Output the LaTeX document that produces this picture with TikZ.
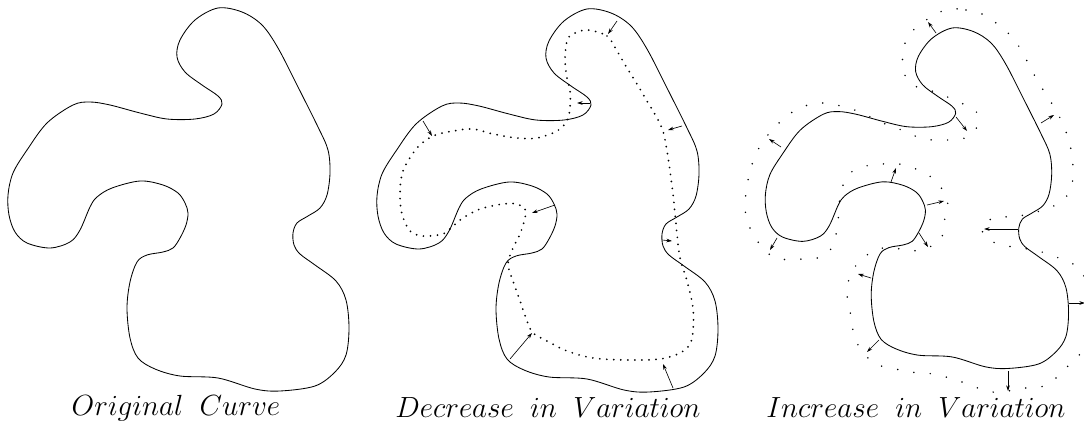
\documentclass[tikz,border=0pt]{standalone}
\usetikzlibrary{arrows.meta}

\tikzset{
  curva/.pic={
    \draw[line width=0.6pt] plot[smooth cycle, tension=0.55] coordinates {
      (218,8) (242,12) (262,25) (278,48) (298,87) (318,127) (328,150) (330,173)
      (327,195) (320,208) (308,216) (297,223) (293,233) (294,245) (300,254)
      (315,265) (336,281) (346,300) (349,328) (346,355) (335,372) (315,386)
      (280,391) (255,389) (218,378) (180,376) (155,369) (138,358) (130,338)
      (127,308) (130,282) (137,262) (147,255) (163,252) (173,248) (180,238)
      (186,225) (188,213) (185,203) (178,193) (163,185) (140,181) (112,188)
      (97,197) (90,207) (80,230) (70,242) (50,248) (27,243) (15,232) (9,215)
      (8,195) (13,173) (27,150) (47,123) (73,105) (90,102) (110,105) (140,113)
      (167,119) (195,119) (214,114) (222,104) (218,96) (202,85) (185,72)
      (177,57) (180,40) (195,20)};
  },
  flujo/.style={-{Stealth[length=4pt,width=2.6pt]}, line width=0.45pt},
  puntosin/.style={line width=1.4pt, line cap=round, dash pattern=on 0pt off 5pt},
  puntosout/.style={line width=1.2pt, line cap=round, dash pattern=on 0pt off 11.7pt},
  titulo/.style={font=\fontsize{19.2}{22}\selectfont}
}

\begin{document}
\begin{tikzpicture}[x=0.025cm, y=-0.025cm]
  \useasboundingbox (0,0) rectangle (1084,427);
  % curva original
  \pic at (0,0) {curva};
  \node[titulo] (orig) at (176,408) {$Original\ \ Curve$};

  % disminucion de la variacion
  \begin{scope}[shift={(369,1)}]
    \pic at (0,0) {curva};
    \draw[puntosin] plot[smooth cycle, tension=0.55] coordinates {
      (218,29) (238,35) (248,50) (258,67) (268,83) (278,100) (288,117) (294,130)
      (298,150) (301,170) (304,193) (306,213) (308,233) (311,257) (318,280)
      (324,307) (324,330) (321,343) (311,352) (291,358) (258,359) (224,357)
      (198,350) (178,340) (164,332) (158,320) (151,300) (144,280) (139,263)
      (144,247) (151,233) (156,217) (156,208) (148,203) (134,203) (111,208)
      (94,217) (84,225) (74,233) (54,235) (41,230) (33,213) (31,193) (34,170)
      (48,147) (64,135) (84,130) (104,128) (124,133) (148,137) (168,137)
      (188,130) (198,120) (201,107) (201,90) (198,77) (196,60) (198,40) (204,33)};
    \draw[flujo] (248,20) -- (239,33);
    \draw[flujo] (221,102) -- (208,102);
    \draw[flujo] (54,120) -- (63,135);
    \draw[flujo] (313,125) -- (299,129);
    \draw[flujo] (186,204) -- (163,212);
    \draw[flujo] (293,239) -- (303,240);
    \draw[flujo] (141,358) -- (163,332);
    \draw[flujo] (304,387) -- (294,363);
  \end{scope}
  \node[titulo] (decr) at (548,408) {$Decrease\ \ in\ \ Variation$};

  % aumento de la variacion
  \begin{scope}[shift={(758.3,20.9)}, scale=0.889]
    \pic[transform shape] at (0,0) {curva};
  \end{scope}
  \draw[puntosout] plot[smooth cycle, tension=0.55] coordinates {
    (948,9) (966,10) (982,14) (996,23) (1009,34) (1020,48) (1028,63) (1036,78)
    (1045,93) (1054,107) (1062,122) (1068,138) (1072,155) (1073,172) (1071,189)
    (1061,202) (1046,209) (1029,214) (1012,217) (996,217) (982,226) (987,239)
    (1003,245) (1019,248) (1036,250) (1052,256) (1068,261) (1081,271) (1089,290)
    (1091,315) (1087,338) (1080,354) (1068,366) (1056,378) (1041,387) (1025,388)
    (1008,391) (991,392) (975,387) (959,381) (942,376) (926,373) (909,372)
    (892,368) (875,364) (863,352) (854,337) (852,320) (848,303) (847,287)
    (853,270) (863,258) (878,249) (894,248) (911,251) (927,248) (941,239)
    (944,222) (948,205) (942,189) (931,177) (916,169) (899,164) (882,164)
    (866,166) (850,173) (842,188) (839,205) (838,222) (835,238) (828,253)
    (813,259) (796,259) (779,259) (765,251) (755,237) (747,221) (745,204)
    (747,187) (750,171) (756,154) (764,140) (775,127) (788,115) (802,107)
    (819,103) (836,105) (852,109) (868,116) (883,123) (899,129) (915,136)
    (932,140) (948,140) (965,138) (977,127) (976,111) (961,103) (945,96)
    (929,90) (913,85) (903,71) (903,54) (907,38) (919,25) (933,16)};
  \draw[flujo] (936,33) -- (928,22);
  \draw[flujo] (1041,123) -- (1054,115);
  \draw[flujo] (956,117) -- (967,131);
  \draw[flujo] (781,147) -- (769,139);
  \draw[flujo] (891,182) -- (896,168);
  \draw[flujo] (927,205) -- (944,201);
  \draw[flujo] (919,233) -- (928,247);
  \draw[flujo] (1018,229) -- (984,229);
  \draw[flujo] (777,238) -- (770,250);
  \draw[flujo] (871,278) -- (858,274);
  \draw[flujo] (1069,303) -- (1085,303);
  \draw[flujo] (879,340) -- (867,352);
  \draw[flujo] (1008,371) -- (1008,391);
  \node[titulo] (incr) at (916,408) {$Increase\ \ in\ \ Variation$};
\end{tikzpicture}
\end{document}
